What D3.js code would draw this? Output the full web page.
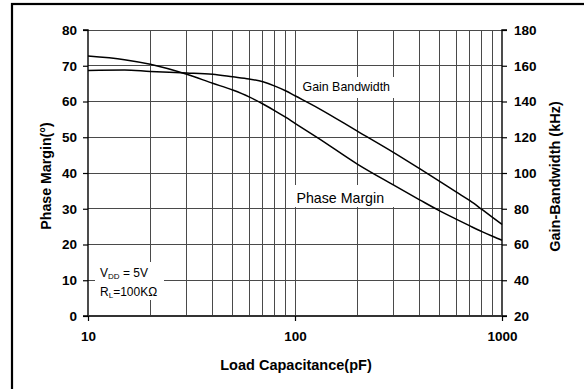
<!DOCTYPE html>
<html>
<head>
<meta charset="utf-8">
<script src="https://cdn.jsdelivr.net/npm/d3@7"></script>
<style>
  html, body { margin: 0; padding: 0; background: #fff; }
  svg { display: block; }
</style>
</head>
<body>
<svg id="chart" width="584" height="389"></svg>
<script>
// Load capacitance (pF) sample points
const capacitance = [10, 15, 20, 30, 40, 50, 60, 70, 80, 90, 100, 130, 200, 300, 400, 500, 600, 700, 800, 900, 1000];
// Phase margin (degrees), left axis
const phaseMargin = [72.7, 71.7, 70.4, 67.6, 65.1, 63.2, 61.3, 59.3, 57.4, 55.6, 53.9, 49.7, 42.5, 36.6, 32.5, 29.4, 27.1, 25.2, 23.6, 22.3, 21.2];
// Gain-bandwidth (kHz), right axis
const gainBandwidth = [157.4, 157.6, 156.8, 156.0, 155.2, 153.8, 152.6, 151.0, 148.6, 146.0, 143.2, 136.2, 123.4, 111.4, 102.4, 95.3, 89.4, 84.5, 79.6, 75.2, 71.2];

const xTicks = [10, 100, 1000];
const xMinor = [20, 30, 40, 50, 60, 70, 80, 90, 200, 300, 400, 500, 600, 700, 800, 900];
const leftTicks = [0, 10, 20, 30, 40, 50, 60, 70, 80];
const rightTicks = [20, 40, 60, 80, 100, 120, 140, 160, 180];

const svg = d3.select("#chart");
const L = 88, R = 502, T = 30, B = 316;

const x = d3.scaleLog().domain([10, 1000]).range([L, R]);
const yL = d3.scaleLinear().domain([0, 80]).range([B, T]);
const yR = d3.scaleLinear().domain([20, 180]).range([B, T]);

const font = "'Liberation Sans', Arial, Helvetica, sans-serif";

// outer frame
svg.append("rect")
  .attr("x", 12).attr("y", 4).attr("width", 620).attr("height", 420)
  .attr("fill", "none").attr("stroke", "#000").attr("stroke-width", 2.2);

const grid = svg.append("g").attr("stroke", "#4a4a4a").attr("stroke-width", 1).attr("shape-rendering", "crispEdges");

// vertical grid
grid.selectAll("line.v")
  .data(xMinor.concat([100]))
  .join("line")
  .attr("x1", d => x(d)).attr("x2", d => x(d))
  .attr("y1", T).attr("y2", B);

// horizontal grid
grid.selectAll("line.h")
  .data(leftTicks.filter(d => d > 0))
  .join("line")
  .attr("x1", L).attr("x2", R)
  .attr("y1", d => yL(d)).attr("y2", d => yL(d));

// white backing boxes for the annotations
const boxes = svg.append("g").attr("fill", "#fff");
boxes.append("rect").attr("x", 95).attr("y", 262).attr("width", 69).attr("height", 38);
boxes.append("rect").attr("x", 298).attr("y", 77).attr("width", 100).attr("height", 21);
boxes.append("rect").attr("x", 288).attr("y", 185).attr("width", 108).attr("height", 22);

// axes
const leftAxis = d3.axisLeft(yL).tickValues(leftTicks).tickSize(5).tickPadding(6).tickFormat(d3.format("d"));
const rightAxis = d3.axisRight(yR).tickValues(rightTicks).tickSize(5).tickPadding(7).tickFormat(d3.format("d"));
const bottomAxis = d3.axisBottom(x).tickValues(xTicks).tickSize(5).tickPadding(10).tickFormat(d3.format("d"));

function styleAxis(g) {
  g.select(".domain").attr("stroke", "#000").attr("stroke-width", 1.4);
  g.selectAll(".tick line").attr("stroke", "#000").attr("stroke-width", 1.2);
  g.selectAll(".tick text")
    .attr("fill", "#000")
    .style("font-family", font)
    .style("font-size", "13.5px")
    .style("font-weight", "bold");
}

svg.append("g").attr("transform", `translate(${L},0)`).call(leftAxis).call(styleAxis)
  .select(".domain").attr("d", `M-5,${B}H0V${T}H-5`);
svg.append("g").attr("transform", `translate(${R},0)`).call(rightAxis).call(styleAxis)
  .select(".domain").attr("d", `M5,${B}H0V${T}H5`);
svg.append("g").attr("transform", `translate(0,${B})`).call(bottomAxis).call(styleAxis)
  .call(g => g.select(".domain").attr("d", `M${L},0H${R}`).attr("stroke", "#333").attr("stroke-width", 2.2));

// curves
const pmLine = d3.line().x((d, i) => x(capacitance[i])).y(d => yL(d)).curve(d3.curveMonotoneX);
const gbLine = d3.line().x((d, i) => x(capacitance[i])).y(d => yR(d)).curve(d3.curveMonotoneX);

svg.append("path").datum(gainBandwidth).attr("d", gbLine)
  .attr("fill", "none").attr("stroke", "#000").attr("stroke-width", 1.5);
svg.append("path").datum(phaseMargin).attr("d", pmLine)
  .attr("fill", "none").attr("stroke", "#000").attr("stroke-width", 1.5);

// curve labels
svg.append("text").attr("x", 302.5).attr("y", 91)
  .style("font-family", font).style("font-size", "12.4px").text("Gain Bandwidth");
svg.append("text").attr("x", 296.5).attr("y", 202.5)
  .style("font-family", font).style("font-size", "14.2px").text("Phase Margin");

// test conditions
const cond = svg.append("g").style("font-family", font).style("font-size", "12px");
const t1 = cond.append("text").attr("x", 100).attr("y", 276.5);
t1.append("tspan").text("V");
t1.append("tspan").attr("dy", 2).style("font-size", "8px").text("DD");
t1.append("tspan").attr("dy", -2).text(" = 5V");
const t2 = cond.append("text").attr("x", 100).attr("y", 295.5);
t2.append("tspan").text("R");
t2.append("tspan").attr("dy", 2).style("font-size", "8px").text("L");
t2.append("tspan").attr("dy", -2).text("=100KΩ");

// axis titles
const titles = svg.append("g").style("font-family", font).style("font-weight", "bold").attr("fill", "#000");
titles.append("text").attr("x", (L + R) / 2 + 1).attr("y", 369.5)
  .attr("text-anchor", "middle").style("font-size", "14.5px").text("Load Capacitance(pF)");
titles.append("text").attr("transform", "translate(50.5,176) rotate(-90)")
  .attr("text-anchor", "middle").style("font-size", "14.2px").text("Phase Margin(°)");
titles.append("text").attr("transform", "translate(560,176.5) rotate(-90)")
  .attr("text-anchor", "middle").style("font-size", "14.5px").text("Gain-Bandwidth (kHz)");
</script>
</body>
</html>
